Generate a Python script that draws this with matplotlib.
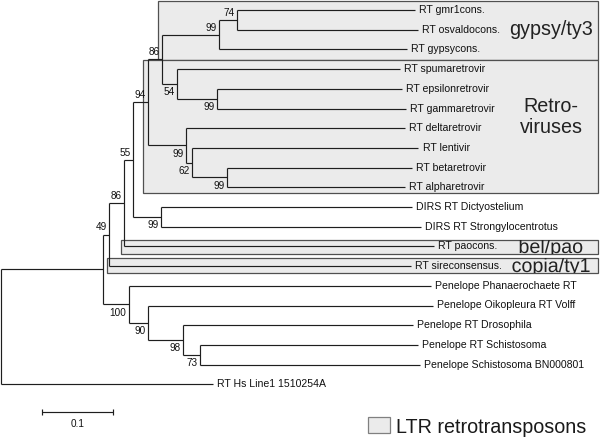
import matplotlib
matplotlib.use('Agg')
import matplotlib.pyplot as plt
from matplotlib.patches import Rectangle, PathPatch
from matplotlib.textpath import TextPath
from matplotlib.font_manager import FontProperties
from matplotlib.transforms import Affine2D

plt.rcParams['font.family'] = ['Liberation Sans', 'DejaVu Sans']

# tips, top to bottom, with their depth (distance from root)
taxa = ['RT gmr1cons.', 'RT osvaldocons.', 'RT gypsycons.', 'RT spumaretrovir',
        'RT epsilonretrovir', 'RT gammaretrovir', 'RT deltaretrovir', 'RT lentivir',
        'RT betaretrovir', 'RT alpharetrovir', 'DIRS RT Dictyostelium',
        'DIRS RT Strongylocentrotus', 'RT paocons.', 'RT sireconsensus.',
        'Penelope Phanaerochaete RT', 'Penelope Oikopleura RT Volff',
        'Penelope RT Drosophila', 'Penelope RT Schistosoma',
        'Penelope Schistosoma BN000801', 'RT Hs Line1 1510254A']
tip_depth = [0.583, 0.587, 0.572, 0.562, 0.565, 0.570, 0.569, 0.588, 0.579, 0.569,
             0.579, 0.592, 0.610, 0.577, 0.606, 0.608, 0.580, 0.587, 0.590, 0.299]

# internal nodes (ids 20..): children, depth, bootstrap support
node_left = [0, 20, 4, 3, 21, 8, 7, 6, 24, 10, 28, 30, 31, 17, 16, 15, 14, 32, 37]
node_right = [1, 2, 5, 22, 23, 9, 25, 26, 27, 11, 29, 12, 13, 18, 33, 34, 35, 36, 19]
node_depth = [0.3324, 0.307, 0.304, 0.248, 0.227, 0.318, 0.269, 0.261, 0.207, 0.225,
              0.186, 0.173, 0.152, 0.280, 0.256, 0.207, 0.180, 0.1437, 0.0]
node_support = [74, 99, 99, 54, 86, 99, 62, 99, 94, 99, 55, 86, 49, 73, 98, 90, 100,
                None, None]

# shaded LTR retrotransposon groups
group_names = ['gypsy/ty3', 'Retro-\nviruses', 'bel/pao', 'copia/ty1']

scale_len = 0.1

ntip = len(taxa)
x = list(tip_depth) + list(node_depth)
y = list(range(ntip)) + [None] * len(node_depth)
parent = {}
for k in range(len(node_depth)):
    nid = ntip + k
    parent[node_left[k]] = nid
    parent[node_right[k]] = nid


def node_y(n):
    if y[n] is None:
        k = n - ntip
        y[n] = (node_y(node_left[k]) + node_y(node_right[k])) / 2
    return y[n]


root = ntip + len(node_depth) - 1
node_y(root)

# axes in pixel-like units: 710 px per unit of branch length, 19.7 px per tip
PXU = 710.0
def px_x(p):
    return (p - 1) / PXU
def px_y(p):
    return (p - 10) / 19.7

DPI = 100
fig = plt.figure(figsize=(6.0, 4.37), dpi=DPI)
ax = fig.add_axes([0, 0, 1, 1])
ax.set_xlim(px_x(0), px_x(600))
ax.set_ylim(px_y(437), px_y(0))
ax.axis('off')

line_kw = dict(color='#1e1e1e', lw=0.85, solid_capstyle='butt')
box_kw = dict(facecolor='#ebebeb', edgecolor='#505050', lw=0.9)

# group boxes (left edge, top, bottom in px)
box_left = [158, 143, 121, 107]
box_top = [0.5, 60, 240, 258]
box_bot = [60, 193, 254, 273]
rects = []
for i in range(len(group_names)):
    r = Rectangle((px_x(box_left[i]), px_y(box_top[i])),
                  px_x(598) - px_x(box_left[i]), px_y(box_bot[i]) - px_y(box_top[i]),
                  zorder=0, **box_kw)
    ax.add_patch(r)
    rects.append(r)

# branches
for k in range(len(node_depth)):
    nid = ntip + k
    a, b = node_left[k], node_right[k]
    ax.plot([x[nid], x[nid]], [y[a], y[b]], zorder=2, **line_kw)
    for c in (a, b):
        ax.plot([x[nid], x[c]], [y[c], y[c]], zorder=2, **line_kw)

# tip labels
for i, name in enumerate(taxa):
    ax.annotate(name, (x[i], y[i]), xytext=(3, 0), textcoords='offset points',
                ha='left', va='center', fontsize=7.6, color='#111111', zorder=3)

# bootstrap values
for k, s in enumerate(node_support):
    if s is None:
        continue
    nid = ntip + k
    p = parent[nid]
    first = node_left[p - ntip] == nid
    dy = 1.5 if first else -2.5
    ax.annotate(str(s), (x[nid], y[nid]), xytext=(-1.6, dy), textcoords='offset points',
                ha='right', va='bottom' if first else 'top', fontsize=7.2,
                color='#111111', zorder=3)

# group labels; the thin boxes cut their label off at the border
label_y = [35, 117, 253, 272]
fp = FontProperties(family='Liberation Sans', size=14.2)
for i, g in enumerate(group_names):
    if i < 2:
        ax.text(px_x(551), px_y(label_y[i]), g, ha='center',
                va='baseline' if i == 0 else 'center', multialignment='center',
                fontproperties=fp, color='#222222', linespacing=1.15, zorder=3)
        continue
    tp = TextPath((0, 0), g, prop=fp)
    ext = tp.get_extents()
    bx, by = ax.transData.transform((px_x(551), px_y(label_y[i])))
    k = DPI / 72.0
    tr = Affine2D().translate(-(ext.x0 + ext.width / 2), 0).scale(k).translate(bx, by)
    pp = PathPatch(tp, transform=tr, facecolor='#222222', edgecolor='none', zorder=3)
    ax.add_patch(pp)
    pp.set_clip_path(rects[i])

# scale bar
sx0 = px_x(42)
sy = px_y(412)
ax.plot([sx0, sx0 + scale_len], [sy, sy], **line_kw)
for xx in (sx0, sx0 + scale_len):
    ax.plot([xx, xx], [px_y(409), px_y(415)], **line_kw)
ax.text(sx0 + scale_len / 2, px_y(424), str(scale_len), ha='center', va='center',
        fontsize=7.2, color='#111111')

# legend
ax.add_patch(Rectangle((px_x(368), px_y(417)), px_x(390) - px_x(368),
                       px_y(433) - px_y(417), facecolor='#ebebeb',
                       edgecolor='#808080', lw=0.9))
ax.text(px_x(396), px_y(433), 'LTR retrotransposons', ha='left', va='baseline',
        fontsize=14.2, color='#1a1a1a')

fig.savefig('out.png', dpi=DPI)
